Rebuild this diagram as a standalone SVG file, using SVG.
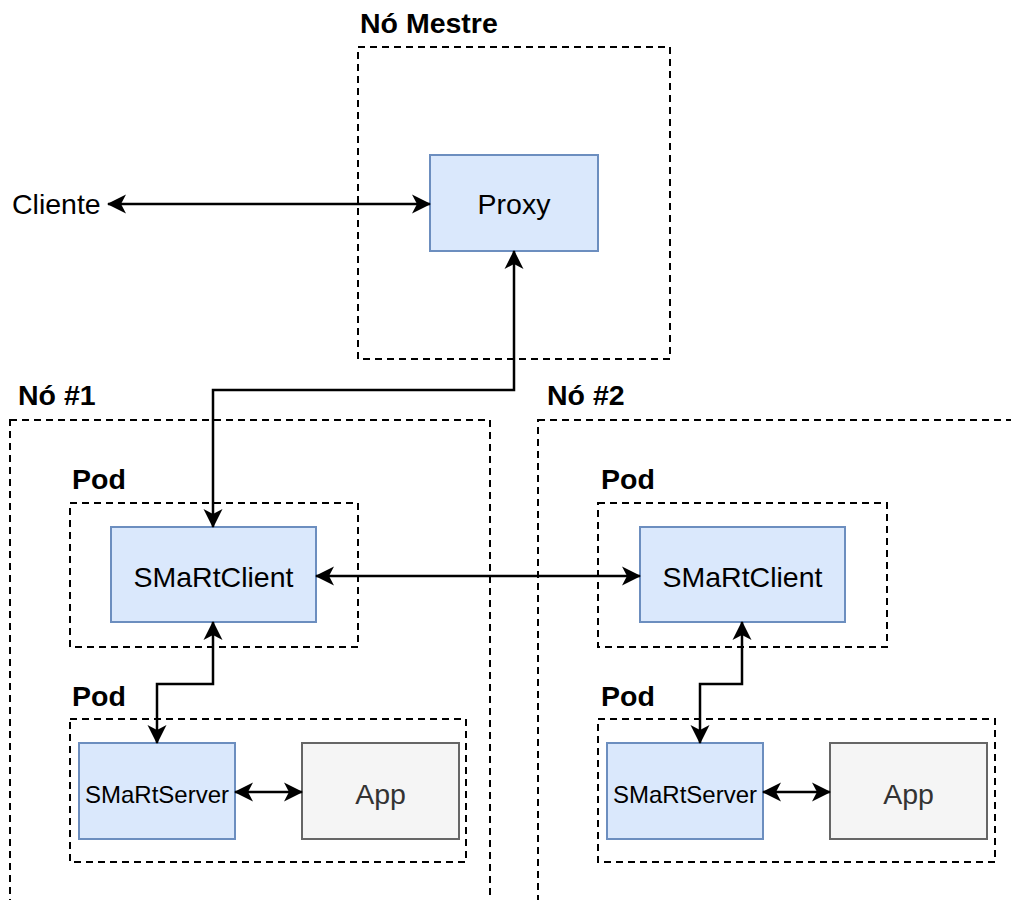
<svg xmlns="http://www.w3.org/2000/svg" width="1011" height="900" viewBox="0 0 1011 900">
<style>
.group{fill:none;stroke:#000;stroke-width:2;stroke-dasharray:7 5}
.blue{fill:#dae8fc;stroke:#6c8ebf;stroke-width:2}
.gray{fill:#f5f5f5;stroke:#666666;stroke-width:2}
.lbl{font-family:"Liberation Sans",Arial,sans-serif;font-weight:bold;font-size:28.5px;fill:#000}
.txt{font-family:"Liberation Sans",Arial,sans-serif;font-size:28.5px;fill:#000;text-anchor:middle}
.srv{font-family:"Liberation Sans",Arial,sans-serif;font-size:24px;fill:#000;text-anchor:middle}
.app{font-family:"Liberation Sans",Arial,sans-serif;font-size:28.5px;fill:#333;text-anchor:middle}
.conn{fill:none;stroke:#000;stroke-width:2.5;marker-start:url(#arr);marker-end:url(#arr)}
</style>
<defs>
<marker id="arr" viewBox="0 0 19 20" refX="18" refY="10" markerWidth="19" markerHeight="20" markerUnits="userSpaceOnUse" orient="auto-start-reverse">
<path d="M0,0.5 L19,10 L0,19.5 L5,10 Z" fill="#000"/>
</marker>
</defs>
<rect width="1011" height="900" fill="#fff"/>

<g id="no-mestre">
<rect class="group" x="358" y="47" width="312" height="312"/>
<text class="lbl" x="360" y="33">Nó Mestre</text>
</g>
<g id="no1">
<rect class="group" x="10" y="420" width="480" height="495"/>
<text class="lbl" x="18" y="405">Nó #1</text>
</g>
<g id="no2">
<rect class="group" x="538" y="420" width="490" height="495"/>
<text class="lbl" x="547" y="405">Nó #2</text>
</g>
<g id="pod1a">
<rect class="group" x="70" y="503" width="288" height="144"/>
<text class="lbl" x="72" y="489">Pod</text>
</g>
<g id="pod1b">
<rect class="group" x="70" y="719" width="396" height="143"/>
<text class="lbl" x="72" y="706">Pod</text>
</g>
<g id="pod2a">
<rect class="group" x="598" y="503" width="289" height="144"/>
<text class="lbl" x="601" y="489">Pod</text>
</g>
<g id="pod2b">
<rect class="group" x="598" y="719" width="397" height="143"/>
<text class="lbl" x="601" y="706">Pod</text>
</g>

<g id="cliente">
<text x="12" y="214" style="font-family:'Liberation Sans',Arial,sans-serif;font-size:28.5px;fill:#000">Cliente</text>
</g>
<g id="proxy">
<rect class="blue" x="430" y="155" width="168" height="96"/>
<text class="txt" x="514" y="214">Proxy</text>
</g>
<g id="smartclient1">
<rect class="blue" x="111" y="527" width="205" height="95"/>
<text class="txt" x="213.5" y="587">SMaRtClient</text>
</g>
<g id="smartclient2">
<rect class="blue" x="640" y="527" width="205" height="95"/>
<text class="txt" x="742.5" y="587">SMaRtClient</text>
</g>
<g id="smartserver1">
<rect class="blue" x="79" y="743" width="156" height="96"/>
<text class="srv" x="157" y="803">SMaRtServer</text>
</g>
<g id="app1">
<rect class="gray" x="302" y="743" width="157" height="96"/>
<text class="app" x="380.5" y="804">App</text>
</g>
<g id="smartserver2">
<rect class="blue" x="607" y="743" width="156" height="96"/>
<text class="srv" x="685" y="803">SMaRtServer</text>
</g>
<g id="app2">
<rect class="gray" x="830" y="743" width="157" height="96"/>
<text class="app" x="908.5" y="804">App</text>
</g>

<g id="connectors">
<path class="conn" d="M108,204 H430"/>
<path class="conn" d="M514,251 V390 H213 V527"/>
<path class="conn" d="M316,576 H640"/>
<path class="conn" d="M213,622 V684 H157 V743"/>
<path class="conn" d="M235,792 H302"/>
<path class="conn" d="M742,622 V684 H700 V743"/>
<path class="conn" d="M763,792 H830"/>
</g>
</svg>
